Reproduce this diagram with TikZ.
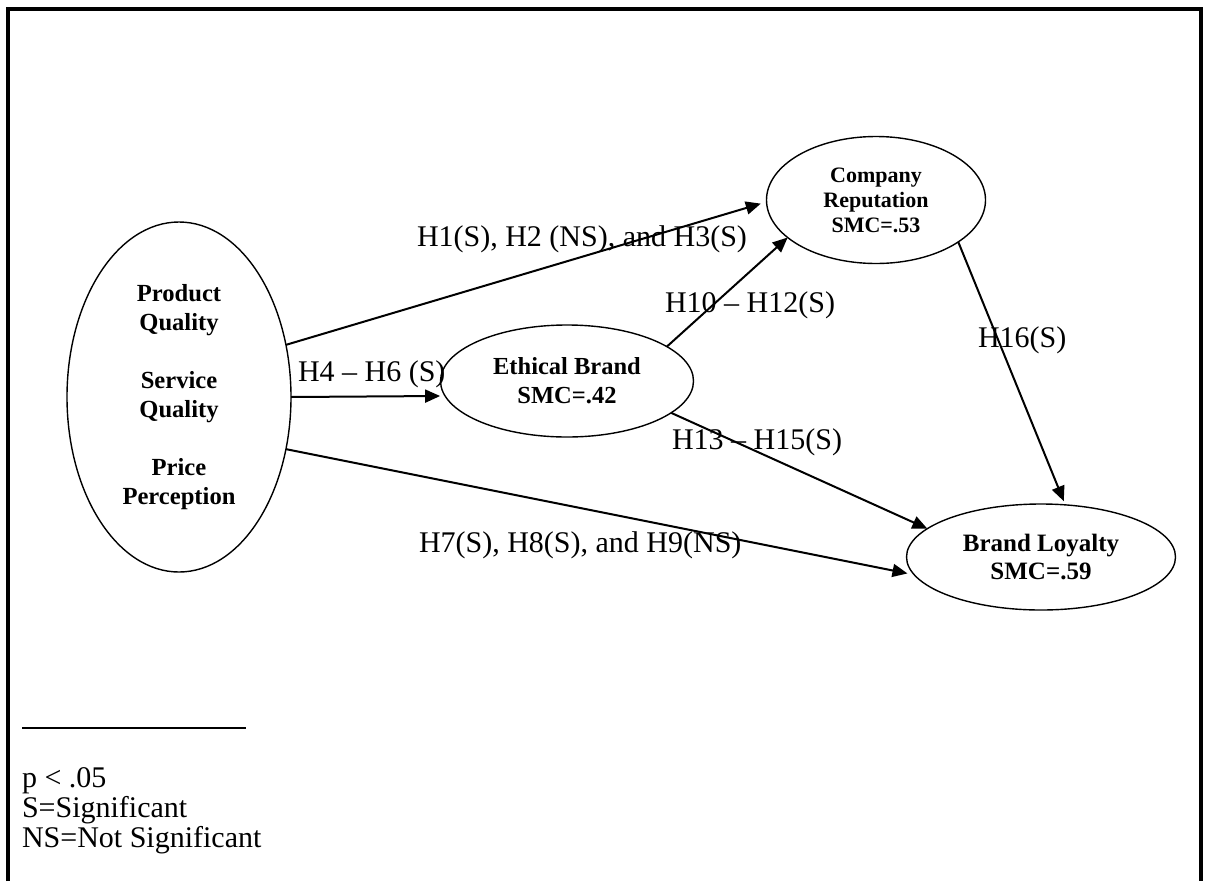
\documentclass[tikz,border=0pt]{standalone}
\usepackage{fontspec}
\setmainfont{Liberation Serif}
\usetikzlibrary{arrows.meta,shapes.geometric}
\begin{document}
\begin{tikzpicture}[x=1pt,y=-1pt,
  construct/.style={draw, ellipse, line width=1.4pt, inner sep=0pt, outer sep=0pt, align=center},
  conn/.style={line width=2pt, -{Triangle[length=15pt,width=13pt]}},
  lbl/.style={inner sep=0pt, outer sep=0pt, anchor=base west, font=\fontsize{30}{34}\selectfont},
  frameline/.style={line width=3.5pt, line join=miter},
  rule/.style={line width=1.6pt}
]
\useasboundingbox (0,0) rectangle (1206,881);
% frame
\draw[frameline] (8,881) -- (8,9) -- (1201,9) -- (1201,881);

% constructs
\node[construct, minimum width=224pt, minimum height=350pt,
      font=\fontsize{24.6}{29}\selectfont\bfseries] (big) at (179,397)
  {Product\\Quality\\[29pt]Service\\Quality\\[29pt]Price\\Perception};
\node[construct, minimum width=253pt, minimum height=112pt,
      font=\fontsize{24.5}{29}\selectfont\bfseries] (eth) at (567,381)
  {Ethical Brand\\SMC=.42};
\node[construct, minimum width=219pt, minimum height=127pt,
      font=\fontsize{22}{25}\selectfont\bfseries] (comp) at (876,200)
  {Company\\Reputation\\SMC=.53};
\node[construct, minimum width=269pt, minimum height=106pt,
      font=\fontsize{25}{28}\selectfont\bfseries] (bl) at (1041,557)
  {Brand Loyalty\\SMC=.59};

% connectors
\draw[conn, shorten >=6pt] (big.26.6) -- (comp.181);
\draw[conn, shorten >=5pt] (big.0) -- (eth.187.2);
\draw[conn, shorten >=7pt] (big.-26.1) -- (bl.188.6);
\draw[conn] (eth.19.1) -- (comp.203.3);
\draw[conn] (eth.-17.6) -- (bl.166.6);
\draw[conn, shorten >=4pt] (comp.-27.5) -- (bl.65.1);

% labels
\node[lbl] (l1) at (417,246) {H1(S), H2 (NS), and H3(S)};
\node[lbl] (l4) at (298,381) {H4 -- H6 (S)};
\node[lbl] (l10) at (665,312) {H10 -- H12(S)};
\node[lbl] (l13) at (672,449) {H13 -- H15(S)};
\node[lbl] (l16) at (978,347) {H16(S)};
\node[lbl] (l7) at (419,552) {H7(S), H8(S), and H9(NS)};

% legend
\coordinate (ruleA) at (22,728);
\coordinate (ruleB) at (246,728);
\draw[rule] (ruleA) -- (ruleB);
\node[lbl] (n1) at (22,787) {p < .05};
\node[lbl] (n2) at (22,817) {S=Significant};
\node[lbl] (n3) at (22,847) {NS=Not Significant};
\end{tikzpicture}
\end{document}
